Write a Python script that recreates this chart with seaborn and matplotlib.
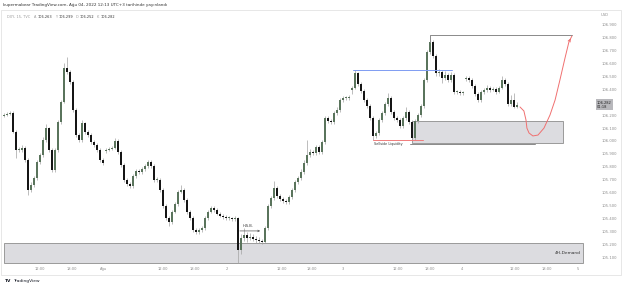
import numpy as np
import pandas as pd
import matplotlib
matplotlib.use('Agg')
import matplotlib.pyplot as plt
import seaborn as sns
from matplotlib.patches import Rectangle

# DXY 15m kapanışları
closes = [
    106.201, 106.209, 106.216, 106.070, 105.930, 105.930, 105.946, 105.853, 105.621, 105.660,
    105.714, 105.838, 105.892, 106.008, 106.100, 105.930, 105.776, 105.930, 106.147, 106.301,
    106.564, 106.533, 106.456, 106.240, 106.046, 106.008, 106.139, 106.070, 106.046, 105.992,
    105.969, 105.930, 105.853, 105.830, 105.930, 105.938, 105.946, 106.000, 105.915, 105.815,
    105.699, 105.668, 105.652, 105.730, 105.768, 105.760, 105.784, 105.807, 105.838, 105.807,
    105.699, 105.699, 105.621, 105.498, 105.405, 105.374, 105.451, 105.513, 105.606, 105.621,
    105.544, 105.451, 105.405, 105.312, 105.297, 105.312, 105.328, 105.405, 105.451, 105.482,
    105.467, 105.436, 105.420, 105.413, 105.405, 105.405, 105.397, 105.405, 105.158, 105.250,
    105.274, 105.250, 105.258, 105.243, 105.235, 105.227, 105.219, 105.328, 105.498, 105.560,
    105.637, 105.575, 105.552, 105.536, 105.529, 105.567, 105.621, 105.683, 105.714, 105.760,
    105.830, 105.892, 105.915, 105.907, 105.954, 105.915, 105.992, 106.178, 106.155, 106.147,
    106.216, 106.240, 106.317, 106.332, 106.332, 106.340, 106.410, 106.526, 106.441, 106.386,
    106.317, 106.270, 106.178, 106.039, 106.062, 106.162, 106.216, 106.286, 106.332, 106.224,
    106.178, 106.162, 106.116, 106.178, 106.224, 106.147, 106.023, 106.155, 106.201, 106.270,
    106.471, 106.688, 106.765, 106.657, 106.526, 106.533, 106.487, 106.510, 106.471, 106.510,
    106.379, 106.379, 106.371, 106.371, 106.487, 106.471, 106.425, 106.363, 106.317, 106.379,
    106.394, 106.410, 106.394, 106.402, 106.379, 106.410, 106.471, 106.441, 106.286, 106.317,
    106.263, 106.282,
]
highs = [
    106.215, 106.222, 106.230, 106.228, 106.082, 105.955, 105.968, 105.960, 105.865, 105.680,
    105.730, 105.855, 105.910, 106.030, 106.135, 106.112, 105.945, 105.948, 106.165, 106.320,
    106.600, 106.650, 106.550, 106.470, 106.255, 106.060, 106.160, 106.150, 106.082, 106.058,
    106.005, 105.982, 105.945, 105.866, 105.945, 105.952, 105.960, 106.020, 106.012, 105.928,
    105.830, 105.712, 105.685, 105.745, 105.785, 105.782, 105.800, 105.825, 105.855, 105.850,
    105.820, 105.720, 105.715, 105.635, 105.512, 105.420, 105.465, 105.530, 105.625, 105.660,
    105.635, 105.560, 105.468, 105.420, 105.325, 105.330, 105.345, 105.420, 105.470, 105.500,
    105.495, 105.480, 105.450, 105.432, 105.425, 105.418, 105.415, 105.418, 105.415, 105.285,
    105.330, 105.300, 105.290, 105.280, 105.262, 105.255, 105.245, 105.340, 105.515, 105.578,
    105.690, 105.650, 105.590, 105.565, 105.548, 105.580, 105.640, 105.700, 105.730, 105.780,
    105.850, 106.008, 105.935, 105.930, 105.972, 105.968, 106.010, 106.195, 106.190, 106.170,
    106.232, 106.260, 106.332, 106.348, 106.345, 106.352, 106.425, 106.549, 106.535, 106.455,
    106.400, 106.330, 106.285, 106.190, 106.080, 106.178, 106.232, 106.300, 106.370, 106.345,
    106.240, 106.195, 106.178, 106.195, 106.260, 106.240, 106.160, 106.170, 106.218, 106.285,
    106.490, 106.705, 106.783, 106.780, 106.670, 106.560, 106.548, 106.540, 106.525, 106.530,
    106.525, 106.395, 106.392, 106.385, 106.500, 106.505, 106.485, 106.440, 106.378, 106.395,
    106.410, 106.430, 106.425, 106.418, 106.415, 106.425, 106.500, 106.488, 106.455, 106.355,
    106.370, 106.299,
]
lows = [
    106.185, 106.190, 106.200, 106.058, 105.869, 105.912, 105.918, 105.840, 105.580, 105.605,
    105.645, 105.700, 105.820, 105.880, 105.990, 105.915, 105.760, 105.760, 105.915, 106.130,
    106.290, 106.515, 106.440, 106.225, 106.030, 105.990, 105.995, 106.055, 106.030, 105.978,
    105.955, 105.915, 105.840, 105.815, 105.910, 105.920, 105.930, 105.935, 105.900, 105.800,
    105.685, 105.650, 105.635, 105.640, 105.715, 105.745, 105.745, 105.770, 105.795, 105.790,
    105.685, 105.680, 105.605, 105.480, 105.390, 105.345, 105.360, 105.440, 105.500, 105.595,
    105.530, 105.435, 105.390, 105.295, 105.280, 105.285, 105.298, 105.315, 105.390, 105.440,
    105.455, 105.425, 105.410, 105.400, 105.392, 105.392, 105.385, 105.385, 105.057, 105.130,
    105.230, 105.220, 105.235, 105.225, 105.215, 105.210, 105.205, 105.210, 105.315, 105.485,
    105.545, 105.560, 105.535, 105.520, 105.512, 105.515, 105.555, 105.605, 105.668, 105.700,
    105.745, 105.815, 105.880, 105.890, 105.892, 105.900, 105.900, 105.978, 106.138, 106.130,
    106.132, 106.200, 106.225, 106.300, 106.318, 106.320, 106.360, 106.400, 106.425, 106.370,
    106.300, 106.255, 106.160, 106.008, 106.025, 106.048, 106.148, 106.200, 106.270, 106.210,
    106.160, 106.145, 106.100, 106.100, 106.160, 106.130, 105.990, 106.008, 106.140, 106.185,
    106.255, 106.455, 106.670, 106.640, 106.505, 106.500, 106.450, 106.470, 106.455, 106.455,
    106.362, 106.362, 106.358, 106.358, 106.465, 106.455, 106.410, 106.345, 106.300, 106.305,
    106.365, 106.380, 106.380, 106.385, 106.365, 106.368, 106.400, 106.425, 106.270, 106.272,
    106.255, 106.252,
]
first_open = 106.195
gap_opens = {34: 105.925, 116: 106.395, 154: 106.480}  # seans açılış boşlukları

price_ticks = [105.1, 105.2, 105.3, 105.4, 105.5, 105.6, 105.7, 105.8, 105.9, 106.0,
               106.1, 106.2, 106.3, 106.4, 106.5, 106.6, 106.7, 106.8, 106.9]
time_labels = ['12:00', '18:00', 'Ağu', '12:00', '18:00', '2', '12:00', '18:00', '3',
               '12:00', '18:00', '4', '12:00', '18:00', '5']
time_ticks = [12, 22.7, 33.3, 53, 63.7, 74.3, 92.7, 102.7, 113, 131.3, 142, 152.7, 170.3, 181, 191.3]

# çizim seviyeleri
demand_4h = (105.057, 105.212)
demand_1 = (105.985, 106.155)
bos_level = 106.549
sellside_level = 106.008
top_level = 106.819
curve_x = [172.0, 173.3, 174.0, 174.3, 175.0, 176.3, 178.0, 180.0, 182.0, 183.7, 185.3, 187.0, 188.3, 189.3]
curve_y = [106.263, 106.232, 106.162, 106.100, 106.062, 106.039, 106.046, 106.100, 106.201,
           106.317, 106.471, 106.641, 106.765, 106.811]

opens = [first_open] + closes[:-1]
for k, v in gap_opens.items():
    opens[k] = v
df = pd.DataFrame({'o': opens, 'h': highs, 'l': lows, 'c': closes})
df['i'] = np.arange(len(df))
df['up'] = df['c'] >= df['o']
last = df['c'].iloc[-1]

sns.set_theme(style='white')
plt.rcParams['font.family'] = ['DejaVu Sans']

fig = plt.figure(figsize=(6.25, 2.88), dpi=100)
W, H = 625, 288
ax = fig.add_axes([0, (H - 264) / H, 585 / W, (264 - 10) / H])
for s in ax.spines.values():
    s.set_visible(False)

y_top = 106 + (141 - 10) / 129.4
y_bot = 106 - (264 - 141) / 129.4
ax.set_ylim(y_bot, y_top)
ax.set_xlim(-4 / 3, 581 / 3)

# bölgeler
ax.add_patch(Rectangle((0, demand_4h[0]), 193, demand_4h[1] - demand_4h[0],
                       facecolor='#dcdce0', edgecolor='#9a9a9a', lw=0.7, zorder=1))
ax.text(192.3, sum(demand_4h) / 2, '4H-Demand', fontsize=3.2, ha='right', va='center', color='#333333')
ax.add_patch(Rectangle((136, demand_1[0]), 50.3, demand_1[1] - demand_1[0],
                       facecolor='#dcdce0', edgecolor='#9a9a9a', lw=0.7, zorder=1))
ax.plot([135.3, 177], [demand_1[0] - 0.008] * 2, color='#8a8a8a', lw=0.7, zorder=1)

# mumlar
ax.vlines(df['i'], df['l'], df['h'], color='#a3a3a3', lw=0.5, zorder=2)
body = (df['c'] - df['o']).abs().clip(lower=0.006)
ax.bar(df['i'], body, bottom=df[['o', 'c']].min(axis=1), width=0.6,
       color=np.where(df['up'], '#5a745c', '#151515'), lw=0, zorder=3)

# çizgiler ve notlar
ax.plot([116.3, 149.3], [bos_level] * 2, color='#7f9cf2', lw=0.7, zorder=4)
ax.plot([123, 139.7], [sellside_level] * 2, color='#f07b7b', lw=0.7, zorder=4)
ax.text(123.3, sellside_level - 0.035, 'Sellside Liquidity', fontsize=2.4, color='#333333', va='center')
ax.plot([142, 142, 189.3], [106.765, top_level, top_level], color='#8a8a8a', lw=0.7, zorder=4)
ax.annotate('', xy=(86.3, 105.305), xytext=(77.7, 105.305),
            arrowprops=dict(arrowstyle='->', color='#555555', lw=0.5, mutation_scale=3))
ax.text(81.5, 105.345, 'H.S.B.', fontsize=2.6, ha='center', va='center', color='#333333')
sns.lineplot(x=curve_x, y=curve_y, sort=False, color='#f07070', lw=0.7, ax=ax, zorder=5)
ax.annotate('', xy=(curve_x[-1], curve_y[-1]), xytext=(curve_x[-2], curve_y[-2]),
            arrowprops=dict(arrowstyle='->', color='#f07070', lw=0.7, mutation_scale=4))

# eksenler (son fiyat etiketi 106.300'ü örtüyor)
ax.yaxis.tick_right()
ax.set_yticks(price_ticks)
ax.set_yticklabels(['' if abs(p - last) < 0.04 else f'{p:.3f}' for p in price_ticks])
ax.set_xticks(time_ticks)
ax.set_xticklabels(time_labels)
ax.tick_params(axis='y', length=0, pad=12, labelsize=2.7, labelcolor='#8c8c8c')
ax.tick_params(axis='x', length=0, pad=2, labelsize=2.6, labelcolor='#8c8c8c')
ax.grid(False)

ax.text(1.0205, last, f"{last:.3f}\n01:18", transform=ax.get_yaxis_transform(),
        fontsize=2.6, va='center', ha='left', color='#222222', linespacing=1.0,
        bbox=dict(boxstyle='square,pad=0.35', facecolor='#b8b8bc', edgecolor='none'))

fig.text(601 / W, 1 - 15 / H, 'USD', fontsize=2.7, color='#8c8c8c', va='center')
fig.text(3 / W, 1 - 5 / H, 'kupermabear TradingView.com, Ağu 04, 2022 12:13 UTC+3 tarihinde yayınlandı',
         fontsize=3.0, color='#333333', va='center')
fig.text(7 / W, 1 - 17 / H, 'DXY, 15, TVC', fontsize=2.5, color='#9a9a9a', va='center')
hdr = [('A', '106.263', 34), ('Y', '106.299', 55), ('D', '106.252', 76), ('K', '106.282', 97)]
for lab, val, px in hdr:
    fig.text(px / W, 1 - 17 / H, lab, fontsize=2.5, color='#9a9a9a', va='center')
    fig.text((px + 3.5) / W, 1 - 17 / H, val, fontsize=2.5, color='#333333', va='center')
fig.text(5 / W, 1 - 281 / H, 'TV', fontsize=3.2, weight='bold', color='#131722', va='center')
fig.text(13 / W, 1 - 281 / H, 'TradingView', fontsize=3.2, color='#131722', va='center')

fig.patches.append(Rectangle((0.5 / W, 1 - 275 / H), 620 / W, 265 / H, transform=fig.transFigure,
                             fill=False, edgecolor='#e3e3e3', lw=0.6))

fig.savefig('out.png', dpi=100)
